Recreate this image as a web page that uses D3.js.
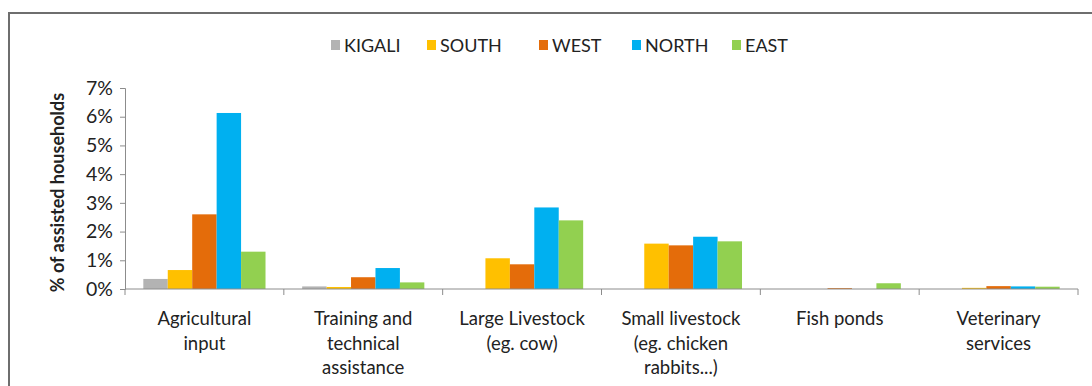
<!DOCTYPE html>
<html>
<head>
<meta charset="utf-8">
<script src="https://cdn.jsdelivr.net/npm/d3@7"></script>
<style>
  html, body { margin: 0; padding: 0; background: #fff; }
  svg { display: block; }
  text { font-family: Lato, "Open Sans", sans-serif; fill: #222; }
</style>
</head>
<body>
<svg id="chart" width="1092" height="386"></svg>
<script>
// Support categories (x axis), one line per label row
const categories = [
  ["Agricultural", "input"],
  ["Training and", "technical", "assistance"],
  ["Large Livestock", "(eg. cow)"],
  ["Small livestock", "(eg. chicken", "rabbits...)"],
  ["Fish ponds"],
  ["Veterinary", "services"]
];

const regions = ["KIGALI", "SOUTH", "WEST", "NORTH", "EAST"];

// % of assisted households, one array per region, in category order
const kigali = [0.35, 0.09, 0.0, 0.0, 0.0, 0.0];
const south  = [0.66, 0.07, 1.07, 1.58, 0.0, 0.04];
const west   = [2.60, 0.41, 0.86, 1.52, 0.03, 0.10];
const north  = [6.13, 0.73, 2.84, 1.82, 0.0, 0.09];
const east   = [1.30, 0.23, 2.39, 1.66, 0.20, 0.08];

const yTicks = [0, 1, 2, 3, 4, 5, 6, 7];
const colors = ["#b3b3b3", "#ffc000", "#e46c0a", "#00b0f0", "#92d050"];

const seriesValues = [kigali, south, west, north, east];

const svg = d3.select("#chart");

// outer frame
svg.append("rect")
  .attr("x", 9).attr("y", 13)
  .attr("width", 1092).attr("height", 400)
  .attr("fill", "none")
  .attr("stroke", "#6e6e6e")
  .attr("stroke-width", 2);

const plot = { left: 125, right: 1078, top: 88, bottom: 289 };

const catIdx = categories.map((d, i) => i);
const x0 = d3.scaleBand().domain(catIdx).range([plot.left, plot.right]).padding(0);
const x1 = d3.scaleBand().domain(regions).range([0, x0.bandwidth()])
  .paddingInner(0).paddingOuter(0.75);
const y = d3.scaleLinear().domain([0, 7]).range([plot.bottom, plot.top]);

// bars
const groups = svg.append("g").selectAll("g")
  .data(catIdx)
  .join("g")
  .attr("transform", i => `translate(${x0(i)},0)`);

groups.selectAll("rect")
  .data(i => regions.map((r, k) => ({ region: r, k, value: seriesValues[k][i] })))
  .join("rect")
  .attr("x", d => x1(d.region))
  .attr("width", x1.bandwidth())
  .attr("y", d => y(d.value))
  .attr("height", d => y(0) - y(d.value))
  .attr("fill", d => colors[d.k]);

// y axis
const yAxis = svg.append("g")
  .attr("transform", `translate(${plot.left},0)`)
  .call(d3.axisLeft(y).tickValues(yTicks).tickFormat(d => d + "%").tickSize(5).tickPadding(7));
yAxis.select(".domain").attr("stroke", "#8c8c8c");
yAxis.selectAll(".tick line").attr("stroke", "#8c8c8c");
yAxis.selectAll(".tick text")
  .style("font-family", "Lato, sans-serif")
  .style("font-size", "19.5px")
  .attr("fill", "#333");

// x axis: baseline plus category boundary ticks
const xg = svg.append("g");
xg.append("line")
  .attr("x1", plot.left).attr("x2", plot.right)
  .attr("y1", y(0)).attr("y2", y(0))
  .attr("stroke", "#8c8c8c");
const bounds = catIdx.map(i => x0(i)).concat([plot.right]);
xg.selectAll("line.b")
  .data(bounds)
  .join("line")
  .attr("class", "b")
  .attr("x1", d => d).attr("x2", d => d)
  .attr("y1", y(0)).attr("y2", y(0) + 6)
  .attr("stroke", "#8c8c8c");

// category labels
const labels = xg.selectAll("text.cat")
  .data(catIdx)
  .join("text")
  .attr("class", "cat")
  .attr("text-anchor", "middle")
  .attr("x", i => x0(i) + x0.bandwidth() / 2)
  .attr("y", 325)
  .style("font-size", "18.5px")
  .attr("fill", "#222");
labels.selectAll("tspan")
  .data(i => categories[i].map((t, li) => ({ t, li, cx: x0(i) + x0.bandwidth() / 2 })))
  .join("tspan")
  .attr("x", d => d.cx)
  .attr("dy", d => d.li === 0 ? 0 : 24.5)
  .text(d => d.t);

// y axis title
svg.append("text")
  .attr("transform", `translate(64,${(plot.top + plot.bottom) / 2 + 4}) rotate(-90)`)
  .attr("text-anchor", "middle")
  .style("font-size", "18px")
  .style("font-weight", "bold")
  .attr("fill", "#222")
  .text("% of assisted households");

// legend
const legendX = [331, 427, 539, 632, 732];
const legend = svg.append("g").selectAll("g")
  .data(regions)
  .join("g")
  .attr("transform", (d, i) => `translate(${legendX[i]},45)`);
legend.append("rect")
  .attr("x", 0).attr("y", -5)
  .attr("width", 9).attr("height", 10)
  .attr("fill", (d, i) => colors[i]);
legend.append("text")
  .attr("x", 13).attr("y", 6.5)
  .style("font-size", "18px")
  .attr("fill", "#222")
  .text(d => d);
</script>
</body>
</html>
